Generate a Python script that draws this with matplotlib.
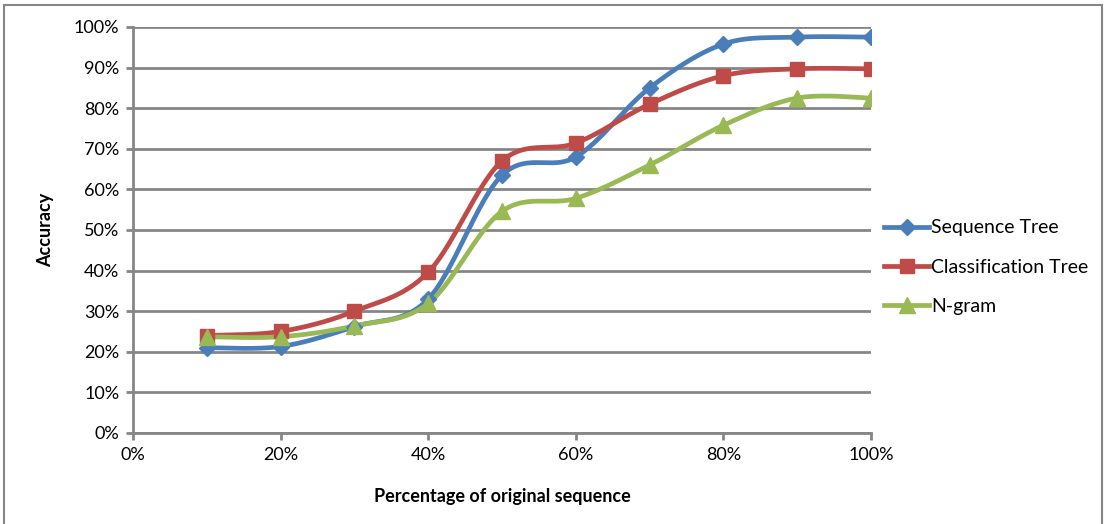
import numpy as np
import matplotlib
matplotlib.use("Agg")
import matplotlib.pyplot as plt
from matplotlib.lines import Line2D
from matplotlib.patches import Rectangle
from matplotlib.ticker import PercentFormatter


plt.rcParams["font.family"] = ["Lato", "DejaVu Sans"]

# percentage of original sequence (x) and accuracy (%) per method
pct_sequence = [10, 20, 30, 40, 50, 60, 70, 80, 90, 100]
sequence_tree = [21.0, 21.3, 26.2, 33.0, 63.5, 68.0, 85.0, 95.8, 97.5, 97.5]
classification_tree = [24.0, 25.0, 30.0, 39.6, 67.0, 71.4, 81.0, 88.0, 89.7, 89.7]
n_gram = [23.7, 23.7, 26.4, 31.9, 54.6, 57.8, 66.0, 75.8, 82.5, 82.5]

series_names = ["Sequence Tree", "Classification Tree", "N-gram"]
series_colors = ["#4A7EBB", "#BE4B48", "#98B954"]
series_markers = ["D", "s", "^"]
marker_sizes = [8, 10, 11]


def smooth_curve(xs, ys, steps=30):
    # Excel style smoothed line: Catmull-Rom segments drawn as cubic Beziers
    pts = np.column_stack([xs, ys]).astype(float)
    padded = np.vstack([pts[0], pts, pts[-1]])
    out = []
    t = np.linspace(0, 1, steps)[:, None]
    for i in range(1, len(padded) - 2):
        p0, p1, p2, p3 = padded[i - 1], padded[i], padded[i + 1], padded[i + 2]
        c1 = p1 + (p2 - p0) / 6
        c2 = p2 - (p3 - p1) / 6
        seg = ((1 - t) ** 3) * p1 + 3 * ((1 - t) ** 2) * t * c1 + 3 * (1 - t) * t ** 2 * c2 + t ** 3 * p2
        out.append(seg if i == 1 else seg[1:])
    curve = np.vstack(out)
    return curve[:, 0], curve[:, 1]


fig = plt.figure(figsize=(11.04, 5.24), dpi=100)
ax = fig.add_axes([0.1205, 0.1737, 0.6685, 0.7748])

grid_color = "#868686"

for values, color, marker, msize in zip(
    [sequence_tree, classification_tree, n_gram], series_colors, series_markers, marker_sizes
):
    sx, sy = smooth_curve(pct_sequence, values)
    ax.plot(sx, sy, color=color, lw=3.4, solid_capstyle="round", zorder=3)
    ax.plot(pct_sequence, values, linestyle="none", marker=marker, markersize=msize,
            color=color, markeredgecolor=color, zorder=4)

ax.set_xlim(0, 100)
ax.set_ylim(0, 100)
ax.set_xticks(np.arange(0, 101, 20))
ax.set_yticks(np.arange(0, 101, 10))
ax.xaxis.set_major_formatter(PercentFormatter(decimals=0))
ax.yaxis.set_major_formatter(PercentFormatter(decimals=0))
ax.yaxis.grid(True, color=grid_color, lw=2)
ax.set_axisbelow(True)

for side in ["top", "right"]:
    ax.spines[side].set_visible(False)
for side in ["left", "bottom"]:
    ax.spines[side].set_color(grid_color)
    ax.spines[side].set_linewidth(2)

ax.tick_params(axis="both", direction="out", length=5, width=2, color=grid_color,
               labelsize=13, labelcolor="#000000", pad=5)

ax.set_xlabel("Percentage of original sequence", fontsize=13, fontweight="bold", labelpad=18)
ax.set_ylabel("Accuracy", fontsize=13, fontweight="bold", labelpad=14)

legend_elements = [
    Line2D([0], [0], color=c, lw=3.4, marker=m, markersize=s, label=n)
    for n, c, m, s in zip(series_names, series_colors, series_markers, marker_sizes)
]
fig.legend(handles=legend_elements, loc="center left", bbox_to_anchor=(0.785, 0.49),
           frameon=False, fontsize=14, handlelength=2.3, handletextpad=0.1,
           labelspacing=1.15)

fig.patches.append(Rectangle((0.004, -0.01), 0.994, 1.0, transform=fig.transFigure,
                             fill=False, edgecolor=grid_color, lw=1.5))

fig.savefig("out.png", dpi=100)
